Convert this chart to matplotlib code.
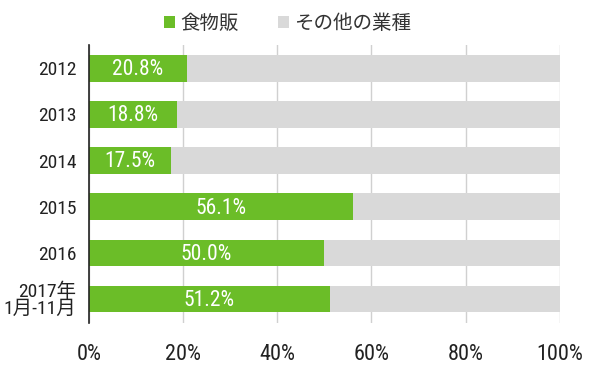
import matplotlib.pyplot as plt
import numpy as np

plt.rcParams['font.family'] = ['Roboto Condensed', 'Noto Sans CJK JP', 'DejaVu Sans']

# data
years = ['2012', '2013', '2014', '2015', '2016', '2017年\n1月-11月']
food_share = [20.8, 18.8, 17.5, 56.1, 50.0, 51.2]
other_share = [100 - v for v in food_share]
x_ticks = [0, 20, 40, 60, 80, 100]
x_tick_labels = ['0%', '20%', '40%', '60%', '80%', '100%']

GREEN = '#6bbd28'
GRAY = '#d9d9d9'

fig = plt.figure(figsize=(6, 3.86), dpi=100)
ax = fig.add_axes([0.148, 0.163, 0.785, 0.72])

y = np.arange(len(years))
ax.barh(y, food_share, height=0.58, color=GREEN, label='食物販', zorder=3)
ax.barh(y, other_share, left=food_share, height=0.58, color=GRAY,
        label='その他の業種', zorder=3)

# value labels inside the green part
for yi, v in zip(y, food_share):
    ax.text(v / 2, yi + 0.03, f'{v:.1f}%', ha='center', va='center', color='white',
            fontsize=15.5, zorder=4)

ax.set_xlim(0, 100)
ax.set_ylim(5.52, -0.5)
ax.set_xticks(x_ticks)
ax.set_xticklabels(x_tick_labels, fontsize=16, color='#222222')
ax.set_yticks(y)
ax.set_yticklabels(years, fontsize=14, color='#222222', linespacing=0.9)
ax.tick_params(axis='x', length=0, pad=15)
ax.tick_params(axis='y', length=0, pad=9)

ax.grid(axis='x', color='#d0d0d0', linewidth=1, zorder=0)
for s in ['top', 'right', 'bottom']:
    ax.spines[s].set_visible(False)
ax.spines['left'].set_color('#222222')
ax.spines['left'].set_linewidth(1.2)
ax.spines['left'].set_zorder(5)

leg = fig.legend(loc='center', bbox_to_anchor=(0.479, 0.94), ncol=2,
                 frameon=False, handlelength=0.6, handleheight=0.6,
                 handletextpad=0.25, columnspacing=2.0, borderaxespad=0,
                 prop={'family': ['Noto Sans CJK JP'], 'size': 14})
for t in leg.get_texts():
    t.set_color('#333333')

fig.savefig('out.png', dpi=100)
